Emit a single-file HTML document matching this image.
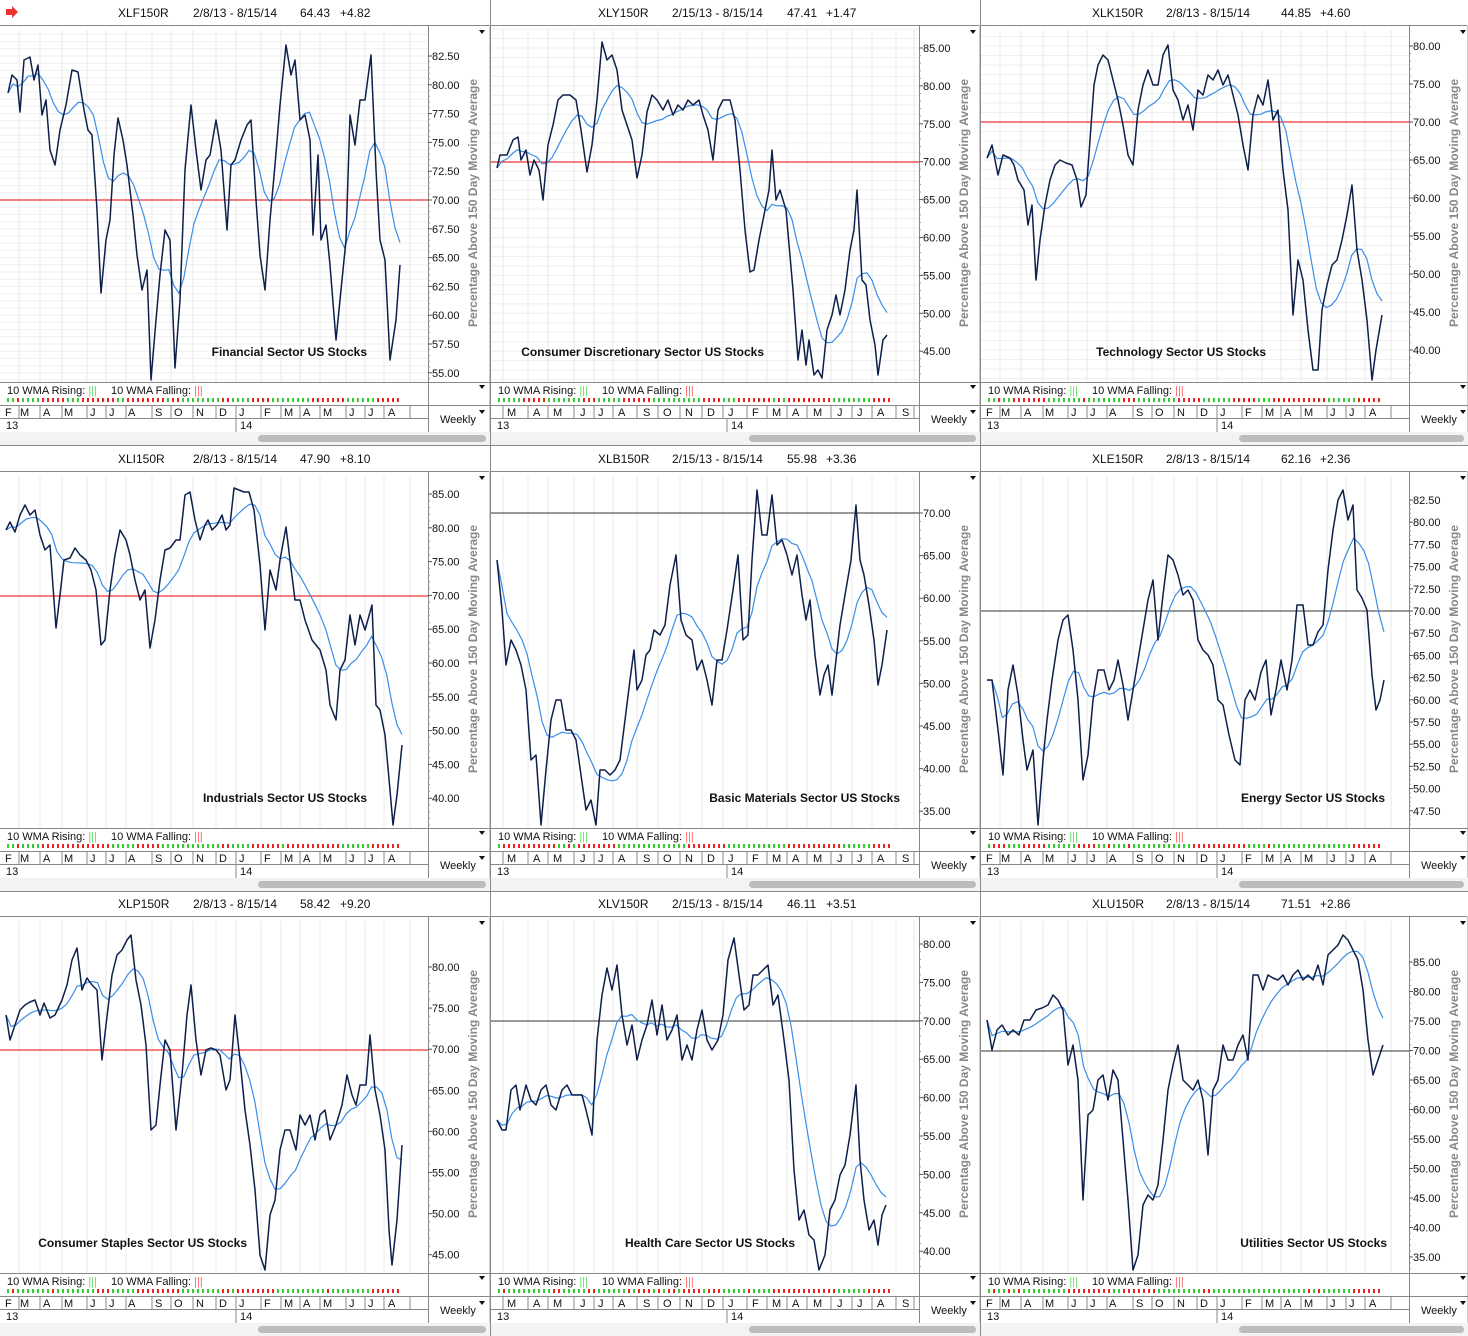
<!DOCTYPE html><html><head><meta charset="utf-8"><style>
body{margin:0;background:#fff}svg{display:block;font-family:"Liberation Sans",sans-serif}
</style></head><body>
<svg id="s" width="1468" height="1336" xmlns="http://www.w3.org/2000/svg"></svg>
<script>
var S=document.getElementById('s'),out='';
function T(x,y,t,o){out+='<text x="'+x+'" y="'+y+'" '+(o||'')+'>'+t+'</text>';}
function L(a,b,c,d,st){out+='<line x1="'+a+'" y1="'+b+'" x2="'+c+'" y2="'+d+'" style="'+st+'"/>';}
var months=[['F',5],['M',20],['A',43],['M',64],['J',90],['J',109],['A',128],['S',155],['O',174],['N',196],['D',219],['J',239],['F',264],['M',284],['A',303],['M',323],['J',349],['J',368],['A',388]];
var seps=[19,40,62,87,106,126,152,171,193,216,236,261,281,300,320,346,365,384,410];
var months2=[['M',16],['A',42],['M',62],['J',89],['J',107],['A',127],['S',152],['O',172],['N',194],['D',216],['J',237],['F',261],['M',281],['A',301],['M',322],['J',346],['J',366],['A',386],['S',411]];
var seps2=[12,37,57,83,103,122,146,167,189,211,232,256,276,296,316,340,361,381,405,423];
var P=[
{c:0,r:0,t:['XLF150R','2/8/13 - 8/15/14','64.43','+4.82'],top:56,v0:82.5,st:28.8,dv:2.5,n:12,h:200,hc:'#e00',nm:'Financial Sector US Stocks',ne:367,
d:[8,93,12,75,17,80,20,112,24,60,30,57,34,80,38,65,42,115,46,100,50,150,55,165,60,130,66,105,72,70,78,72,84,110,88,130,92,135,97,210,101,293,106,240,110,220,114,155,118,118,123,140,127,165,133,215,137,255,142,290,147,270,151,380,156,320,160,275,165,230,170,240,175,368,180,300,185,170,191,105,196,150,201,190,206,160,210,155,216,120,221,150,227,230,231,165,235,160,241,140,247,125,251,120,256,200,260,255,265,290,270,220,275,165,280,105,286,45,291,75,295,60,300,120,305,115,310,140,313,235,318,155,321,240,326,225,330,265,336,340,341,290,346,240,350,115,355,145,360,100,365,100,371,55,376,170,380,240,385,260,390,360,396,320,400,265]},
{c:1,r:0,t:['XLY150R','2/15/13 - 8/15/14','47.41','+1.47'],top:48,v0:85,st:37.9,dv:5,n:9,h:162,hc:'#e00',nm:'Consumer Discretionary Sector US Stocks',ne:273,sep:1,ax:491,
d:[497,168,500,155,507,155,513,140,518,137,521,160,526,150,530,175,534,160,539,170,543,200,548,145,553,125,558,100,563,95,570,95,576,100,581,130,587,172,592,145,597,100,602,42,607,60,612,55,617,70,622,110,627,125,632,140,637,178,642,155,647,112,652,95,657,100,663,110,668,100,673,115,678,105,683,110,688,100,693,105,699,100,703,115,708,130,713,160,718,110,723,100,730,100,735,120,740,170,745,230,750,272,754,270,759,240,764,215,769,190,772,150,776,200,780,190,786,210,793,290,798,360,802,330,806,365,809,340,814,375,818,370,822,378,827,330,832,315,836,295,840,315,845,290,850,250,854,230,857,190,862,280,866,285,870,320,875,345,878,375,883,340,887,335]},
{c:2,r:0,t:['XLK150R','2/8/13 - 8/15/14','44.85','+4.60'],top:46,v0:80,st:38,dv:5,n:9,h:122,hc:'#e00',nm:'Technology Sector US Stocks',ne:285,ax:981,
d:[987,158,992,145,998,175,1003,155,1010,158,1014,165,1018,180,1024,190,1028,225,1032,205,1036,280,1040,240,1045,205,1050,180,1055,165,1060,160,1066,163,1072,165,1077,180,1081,207,1086,195,1090,140,1094,85,1098,65,1103,55,1108,60,1113,80,1118,100,1123,125,1128,155,1133,165,1138,110,1143,85,1148,70,1153,85,1158,85,1163,55,1168,45,1173,90,1178,100,1183,120,1188,105,1193,130,1198,90,1203,95,1208,75,1213,80,1218,70,1223,85,1228,75,1233,95,1238,115,1243,145,1248,170,1253,115,1258,95,1263,105,1268,80,1273,120,1278,110,1283,170,1288,210,1293,315,1298,260,1303,280,1308,330,1313,370,1318,370,1322,310,1327,285,1332,265,1337,260,1342,240,1347,215,1352,185,1357,250,1362,280,1367,320,1372,380,1376,350,1382,315]},
{c:0,r:1,t:['XLI150R','2/8/13 - 8/15/14','47.90','+8.10'],top:494,v0:85,st:33.8,dv:5,n:10,h:596,hc:'#e00',nm:'Industrials Sector US Stocks',ne:367,ay:446,
d:[6,530,10,522,15,532,20,515,25,505,30,515,35,510,40,535,45,550,50,545,56,628,60,595,64,560,70,558,75,548,80,555,86,560,91,570,96,590,101,645,105,640,110,590,115,555,120,530,126,540,130,555,135,580,140,600,145,590,150,648,155,620,160,580,165,550,170,548,176,540,180,540,185,495,190,492,195,520,200,540,205,525,208,520,212,530,217,525,222,515,226,530,230,525,234,488,239,490,244,492,249,492,254,510,260,565,265,630,270,570,276,590,280,560,286,527,290,560,295,600,300,600,305,620,312,640,316,645,320,650,326,670,330,705,336,720,340,670,345,660,350,615,355,645,360,615,365,630,372,605,376,705,380,710,385,735,390,790,393,825,397,795,402,745]},
{c:1,r:1,t:['XLB150R','2/15/13 - 8/15/14','55.98','+3.36'],top:513,v0:70,st:42.6,dv:5,n:8,h:513,hc:'#333',nm:'Basic Materials Sector US Stocks',ne:409,sep:1,ax:491,ay:446,
d:[497,560,502,610,506,665,511,640,516,650,521,665,526,690,531,760,536,755,541,825,546,770,551,720,556,700,561,700,566,730,571,730,576,740,581,775,586,810,591,800,596,825,600,770,605,770,610,775,615,770,620,760,625,720,630,680,634,650,637,690,642,680,646,655,650,650,654,630,660,635,665,625,670,585,676,555,681,620,686,635,692,640,697,670,702,660,707,680,712,705,717,660,722,660,727,630,733,590,738,555,743,640,748,635,752,560,757,490,762,535,767,535,772,495,777,545,782,540,787,555,792,575,797,555,802,595,806,620,810,600,815,655,820,695,824,675,828,665,832,695,836,660,840,625,845,595,851,560,856,505,860,560,864,575,869,605,874,640,878,685,882,665,887,630]},
{c:2,r:1,t:['XLE150R','2/8/13 - 8/15/14','62.16','+2.36'],top:500,v0:82.5,st:22.2,dv:2.5,n:15,h:611,hc:'#333',nm:'Energy Sector US Stocks',ne:404,ax:981,ay:446,
d:[987,680,992,680,998,730,1003,775,1008,690,1013,665,1018,695,1023,740,1027,770,1033,750,1038,825,1043,760,1047,720,1052,680,1058,640,1063,620,1068,615,1073,650,1078,700,1083,780,1088,755,1093,700,1098,670,1104,670,1109,690,1114,680,1118,660,1123,685,1128,720,1133,690,1138,660,1143,630,1148,600,1153,580,1158,640,1163,595,1168,555,1173,560,1178,575,1183,595,1188,590,1193,600,1198,640,1203,650,1208,655,1213,665,1218,700,1223,705,1229,735,1235,760,1240,765,1245,700,1250,690,1255,700,1261,672,1266,660,1271,715,1276,690,1281,660,1287,690,1292,660,1297,605,1303,605,1308,645,1313,645,1318,632,1323,625,1328,570,1333,530,1338,500,1343,490,1348,520,1353,505,1357,590,1362,598,1367,610,1372,675,1376,710,1380,700,1384,680]},
{c:0,r:2,t:['XLP150R','2/8/13 - 8/15/14','58.42','+9.20'],top:967,v0:80,st:41.1,dv:5,n:8,h:1050,hc:'#e00',nm:'Consumer Staples Sector US Stocks',ne:247,ay:891,
d:[6,1015,10,1040,15,1025,20,1010,25,1005,30,1002,35,1000,40,1015,44,1003,50,1018,55,1015,62,1000,67,985,72,960,77,948,82,990,87,978,92,985,97,990,102,1060,106,1025,112,975,117,955,122,950,127,940,131,935,136,980,141,1005,146,1045,151,1130,156,1125,160,1085,165,1040,170,1050,176,1130,182,1075,187,1015,191,985,196,1040,201,1075,206,1050,211,1048,216,1050,220,1055,226,1090,230,1080,235,1015,240,1060,245,1110,250,1145,255,1190,260,1255,265,1270,270,1215,275,1200,280,1150,285,1130,290,1130,296,1150,300,1115,305,1125,310,1115,315,1140,320,1115,325,1110,330,1140,336,1125,342,1105,347,1075,352,1095,356,1105,360,1085,366,1085,370,1035,375,1090,380,1115,385,1150,389,1230,392,1265,397,1220,402,1145]},
{c:1,r:2,t:['XLV150R','2/15/13 - 8/15/14','46.11','+3.51'],top:944,v0:80,st:38.4,dv:5,n:9,h:1021,hc:'#333',nm:'Health Care Sector US Stocks',ne:304,sep:1,ax:491,ay:891,
d:[497,1120,502,1130,506,1130,511,1090,516,1085,520,1110,526,1085,531,1100,536,1105,541,1090,546,1085,551,1105,556,1110,562,1090,567,1085,572,1095,577,1095,582,1095,586,1110,592,1135,597,1040,602,995,607,968,612,990,617,965,622,1015,627,1045,632,1025,637,1060,642,1040,647,1025,652,1000,657,1035,662,1005,667,1040,672,1030,677,1015,682,1060,687,1045,692,1060,697,1030,702,1010,707,1040,712,1050,718,1040,723,1015,728,960,734,938,739,975,744,1010,749,1005,753,975,758,975,763,970,768,965,773,1005,778,995,784,1040,789,1080,794,1170,799,1220,804,1210,809,1235,814,1240,819,1270,825,1255,830,1210,835,1200,840,1175,845,1165,850,1135,856,1085,860,1160,864,1200,869,1230,874,1220,878,1245,882,1215,886,1205]},
{c:2,r:2,t:['XLU150R','2/8/13 - 8/15/14','71.51','+2.86'],top:962,v0:85,st:29.5,dv:5,n:11,h:1051,hc:'#333',nm:'Utilities Sector US Stocks',ne:406,ax:981,ay:891,
d:[987,1020,992,1050,997,1030,1002,1025,1008,1035,1013,1030,1019,1035,1024,1020,1030,1020,1036,1010,1042,1008,1048,1005,1053,995,1058,1000,1063,1010,1068,1065,1073,1045,1078,1080,1083,1200,1088,1115,1093,1110,1098,1080,1103,1075,1108,1100,1113,1070,1118,1080,1123,1140,1128,1200,1133,1270,1138,1255,1143,1205,1148,1195,1153,1200,1158,1185,1163,1140,1168,1090,1173,1065,1178,1045,1183,1080,1188,1085,1193,1090,1198,1080,1203,1100,1208,1155,1213,1090,1218,1080,1223,1045,1228,1060,1233,1060,1238,1045,1243,1035,1248,1060,1253,975,1258,975,1263,990,1268,975,1273,978,1278,980,1283,975,1288,985,1293,975,1298,970,1303,980,1308,975,1313,980,1318,965,1323,985,1328,955,1333,950,1338,945,1343,935,1348,940,1353,950,1358,960,1363,990,1368,1040,1373,1075,1378,1060,1383,1045]}
];
var colX=[0,491,981],rowY=[0,446,891],colW=[490,489,487];
P.forEach(function(p){
 var X=colX[p.c],Y=rowY[p.r],W=colW[p.c],ax=p.ax||0,ay=p.ay||0;
 out+='<g transform="translate('+X+','+Y+')">';
 var to=[118,193,300,340];if(p.c==1)to=[107,181,296,335];if(p.c==2)to=[111,185,300,339];
 p.t.forEach(function(s,i){T(to[i],17,s,'font-size="12" fill="#111"');});
 L(0,25.5,W,25.5,'stroke:#888');
 if(p.c==0&&p.r==0)out+='<path d="M6 9h6v-3l6 6-6 6v-3h-6z" fill="#e33"/>';
 for(var y=p.top-p.st*2;y<382;y+=p.st/4){if(y>28)L(0,y-ay,428,y-ay,'stroke:#efefef');}
 var sp=p.sep?seps2:seps;
 sp.forEach(function(sx){if(sx<428)L(sx,30,sx,382,'stroke:#e8e8e8');});
 L(0,p.h-ay,428,p.h-ay,'stroke:'+p.hc+';stroke-width:1');
 L(428.5,25,428.5,445,'stroke:#888');L(W-0.5,25,W-0.5,445,'stroke:#ccc');
 for(var i=0;i<p.n;i++){var yy=p.top+i*p.st-ay;T(432,yy+4,(p.v0-i*p.dv).toFixed(2),'font-size="11" fill="#111"');L(428,yy,432,yy,'stroke:#555');
  for(var k=1;k<5;k++){var y2=yy+k*p.st/5;if(y2<380)L(428,y2,430,y2,'stroke:#999');}}
 T(0,0,'Percentage Above 150 Day Moving Average','font-size="12" font-weight="bold" fill="#888" text-anchor="middle" transform="translate(477,203) rotate(-90)"');
 out+='<path d="M479 30h6l-3 4z" fill="#111"/>';
 var d=p.d,pts=[];for(i=0;i<d.length;i+=2)pts.push([d[i]-ax,d[i+1]-ay]);
 var x0=pts[0][0],x1=pts[pts.length-1][0],N=79,res=[];
 for(i=0;i<N;i++){var xx=x0+(x1-x0)*i/(N-1),j=0;while(j<pts.length-2&&pts[j+1][0]<xx)j++;var a=pts[j],b=pts[j+1],t=(xx-a[0])/((b[0]-a[0])||1);t=Math.max(0,Math.min(1,t));res.push([xx,a[1]+(b[1]-a[1])*t]);}
 var w=[];for(i=0;i<N;i++){var sw=0,sv=0;for(k=0;k<10&&i-k>=0;k++){sw+=10-k;sv+=(10-k)*res[i-k][1];}w.push([res[i][0],sv/sw]);}
 out+='<polyline fill="none" stroke="#3a8ee8" stroke-width="1.2" points="'+w.map(function(q){return q[0].toFixed(1)+','+q[1].toFixed(1)}).join(' ')+'"/>';
 out+='<polyline fill="none" stroke="#0d1f4a" stroke-width="1.5" stroke-linejoin="round" points="'+pts.map(function(q){return q.join(',')}).join(' ')+'"/>';
 T(p.ne,356,p.nm,'font-size="12" font-weight="bold" fill="#111" text-anchor="end"');
 L(0,382.5,W,382.5,'stroke:#888');
 T(7,394,'10 WMA Rising: <tspan fill="#6d6">|||</tspan>','font-size="11" fill="#111"');
 T(111,394,'10 WMA Falling: <tspan fill="#f66">|||</tspan>','font-size="11" fill="#111"');
 out+='<path d="M479 385h6l-3 4z" fill="#111"/>';
 for(i=0;i<N;i++){var up=i==0?true:w[i][1]<=w[i-1][1];out+='<rect x="'+(7+i*5)+'" y="398" width="2" height="4" fill="'+(up?'#3c3':'#e22')+'"/>';}
 L(0,405.5,W,405.5,'stroke:#888');L(0,418.5,428,418.5,'stroke:#888');L(0,432.5,428,432.5,'stroke:#ccc');
 var ms=p.sep?months2:months;
 ms.forEach(function(m){T(m[1],416,m[0],'font-size="11" fill="#111"');});
 sp.forEach(function(q){if(q<428)L(q,405,q,418,'stroke:#888');});
 T(6,429,'13','font-size="11" fill="#111"');T(240,429,'14','font-size="11" fill="#111"');L(236,418,236,432,'stroke:#888');
 T(440,423,'Weekly','font-size="11" fill="#111"');out+='<path d="M479 410h6l-3 4z" fill="#111"/>';
 out+='<rect x="0" y="432" width="'+W+'" height="13" fill="#f3f3f3"/><rect x="258" y="435" width="'+(W-262)+'" height="7" rx="3.5" fill="#bcbcbc"/>';
 L(0,445.5,W,445.5,'stroke:#888');
 out+='</g>';
});
L(490.5,0,490.5,1336,'stroke:#888');L(980.5,0,980.5,1336,'stroke:#888');
S.innerHTML=out;
</script></body></html>
